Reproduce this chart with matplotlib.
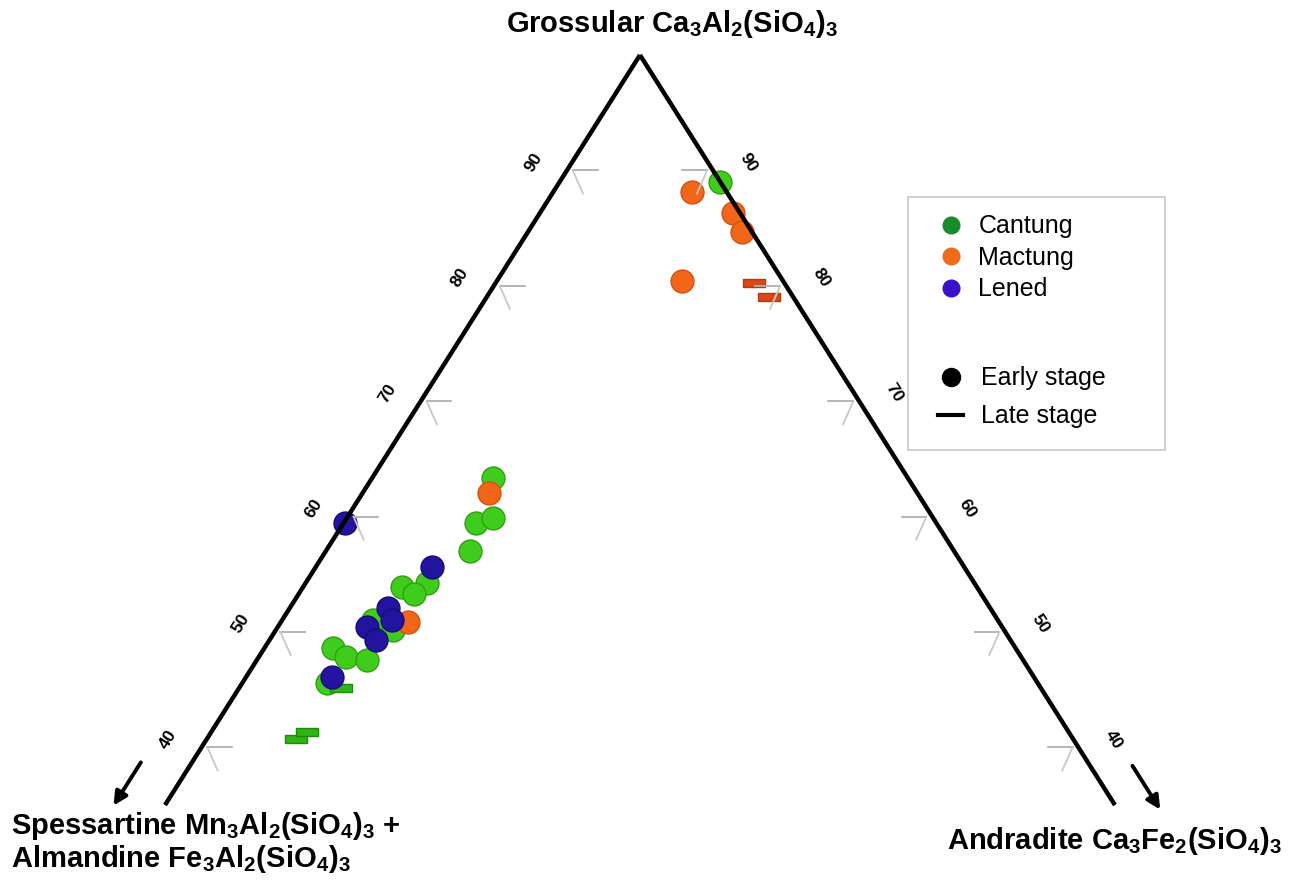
import numpy as np
import matplotlib
matplotlib.use('Agg')
from matplotlib import pyplot as plt
from matplotlib.lines import Line2D
from matplotlib.patches import Rectangle

plt.rcParams['font.family'] = ['Liberation Sans', 'DejaVu Sans']
plt.rcParams['mathtext.fontset'] = 'custom'
plt.rcParams['mathtext.bf'] = 'Liberation Sans:bold'
plt.rcParams['mathtext.rm'] = 'Liberation Sans:bold'
plt.rcParams['mathtext.default'] = 'bf'

# garnet compositions, mol% grossular and andradite (rest = spess + alm)
cantung_early_grs = [89.0, 63.3, 59.4, 59.9, 57.0, 53.9, 54.2, 53.3, 51.0, 50.2, 48.6, 47.8, 47.6, 45.6]
cantung_early_adr = [11.0, 8.3, 9.1, 10.0, 9.9, 6.8, 8.3, 7.9, 6.2, 8.0, 4.7, 6.0, 7.5, 5.8]
cantung_late_grs = [40.7, 41.3, 45.1]
cantung_late_adr = [6.1, 6.6, 7.0]

mactung_early_grs = [88.1, 86.3, 84.7, 80.4, 62.0, 50.9]
mactung_early_adr = [9.5, 13.2, 14.6, 12.7, 8.7, 8.7]
mactung_late_grs = [80.2, 79.0]
mactung_late_adr = [17.7, 19.3]

lened_early_grs = [59.4, 55.6, 52.1, 51.0, 50.4, 49.3, 46.1]
lened_early_adr = [0.1, 8.0, 6.7, 7.5, 6.1, 7.3, 5.9]

tick_levels = [40, 50, 60, 70, 80, 90]
g_min = 35


def tern(g, a):
	g = np.asarray(g, dtype=float)
	a = np.asarray(a, dtype=float)
	return a + g / 2, g


fig = plt.figure(figsize=(12.96, 8.82), dpi=100)
ax = fig.add_axes([0, 0, 1, 1])
ax.set_xlim(6.21, 94.89)
ax.set_ylim(28.33, 104.77)
ax.axis('off')

dash = [(-1.375, -0.5), (1.375, -0.5), (1.375, 0.5), (-1.375, 0.5), (-1.375, -0.5)]

x, y = tern(cantung_early_grs, cantung_early_adr)
ax.plot(x, y, 'o', ls='none', ms=16.5, mfc='#3fcc1c', mec='#2ea012', mew=1, zorder=3)
x, y = tern(cantung_late_grs, cantung_late_adr)
ax.plot(x, y, marker=dash, ls='none', ms=16, mfc='#2fb512', mec='#208a0c', mew=1, zorder=3)
x, y = tern(mactung_early_grs, mactung_early_adr)
ax.plot(x, y, 'o', ls='none', ms=16.5, mfc='#f2661a', mec='#d8500c', mew=1, zorder=4)
x, y = tern(mactung_late_grs, mactung_late_adr)
ax.plot(x, y, marker=dash, ls='none', ms=16, mfc='#d84a14', mec='#b8380a', mew=1, zorder=4)
x, y = tern(lened_early_grs, lened_early_adr)
ax.plot(x, y, 'o', ls='none', ms=16.5, mfc='#22149e', mec='#160c78', mew=1, zorder=5)

# triangle frame (truncated at 35 % grossular)
lx, ly = tern([100, g_min], [0, 0])
ax.plot(lx, ly, color='black', lw=3.2, solid_capstyle='butt', zorder=6)
rx, ry = tern([100, g_min], [0, 100 - g_min])
ax.plot(rx, ry, color='black', lw=3.2, solid_capstyle='butt', zorder=6)

for g in tick_levels:
	e = g / 2
	ax.plot([e + 0.4, e + 2.1], [g, g], color='#b0b0b0', lw=1.3, zorder=6)
	ax.plot([e + 0.4, e + 1.1], [g, g - 2], color='#c8c8c8', lw=1.3, zorder=6)
	ax.text(e - 2.3, g + 0.7, str(g), rotation=57.7, ha='center', va='center',
		fontsize=12.5, fontweight='bold')
	e = 100 - g / 2
	ax.plot([e - 0.4, e - 2.1], [g, g], color='#b0b0b0', lw=1.3, zorder=6)
	ax.plot([e - 0.4, e - 1.1], [g, g - 2], color='#c8c8c8', lw=1.3, zorder=6)
	ax.text(e + 2.4, g + 0.7, str(g), rotation=-57.7, ha='center', va='center',
		fontsize=12.5, fontweight='bold')

# direction arrows
ax.annotate('', xy=(34.75 / 2 - 3.5, 34.75), xytext=(38.9 / 2 - 3.5, 38.9),
	arrowprops=dict(arrowstyle='-|>', color='black', lw=2.8, mutation_scale=20))
ax.annotate('', xy=(100 - 34.4 / 2 + 2.9, 34.4), xytext=(100 - 38.6 / 2 + 2.9, 38.6),
	arrowprops=dict(arrowstyle='-|>', color='black', lw=2.8, mutation_scale=20))

# vertex labels
fig.text(672 / 1296, 1 - 24 / 882, r'Grossular Ca$_3$Al$_2$(SiO$_4$)$_3$',
	ha='center', va='center', fontsize=21, fontweight='bold')
fig.text(11 / 1296, 1 - 826 / 882, r'Spessartine Mn$_3$Al$_2$(SiO$_4$)$_3$ +',
	ha='left', va='center', fontsize=21, fontweight='bold')
fig.text(11 / 1296, 1 - 859 / 882, r'Almandine Fe$_3$Al$_2$(SiO$_4$)$_3$',
	ha='left', va='center', fontsize=21, fontweight='bold')
fig.text(947 / 1296, 1 - 841 / 882, r'Andradite Ca$_3$Fe$_2$(SiO$_4$)$_3$',
	ha='left', va='center', fontsize=21, fontweight='bold')

# legends: deposits, then growth stage
site_handles = [
	Line2D([], [], marker='o', ls='none', ms=12, mfc='#1a8a2a', mec='#1a8a2a'),
	Line2D([], [], marker='o', ls='none', ms=12, mfc='#f06a1a', mec='#f06a1a'),
	Line2D([], [], marker='o', ls='none', ms=12, mfc='#3a10c8', mec='#3a10c8'),
]
site_labels = ['Cantung', 'Mactung', 'Lened']
leg1 = fig.legend(site_handles, site_labels, loc='upper left', bbox_to_anchor=(926 / 1296, 1 - 202 / 882),
	frameon=False, fontsize=18, handlelength=1.0, handletextpad=0.6, labelspacing=0.3,
	borderpad=0)
stage_handles = [
	Line2D([], [], marker='o', ls='none', ms=13, mfc='black', mec='black'),
	Line2D([], [], color='black', lw=3),
]
stage_labels = ['Early stage', 'Late stage']
leg2 = fig.legend(stage_handles, stage_labels, loc='upper left', bbox_to_anchor=(926 / 1296, 1 - 354 / 882),
	frameon=False, fontsize=18, handlelength=1.0, handletextpad=0.7, labelspacing=0.55,
	borderpad=0)
fig.add_artist(Rectangle((908 / 1296, 1 - 450 / 882), 257 / 1296, 253 / 882,
	transform=fig.transFigure, fill=False, edgecolor='#c8c8c8', lw=1.2))

fig.savefig('out.png', dpi=100)
